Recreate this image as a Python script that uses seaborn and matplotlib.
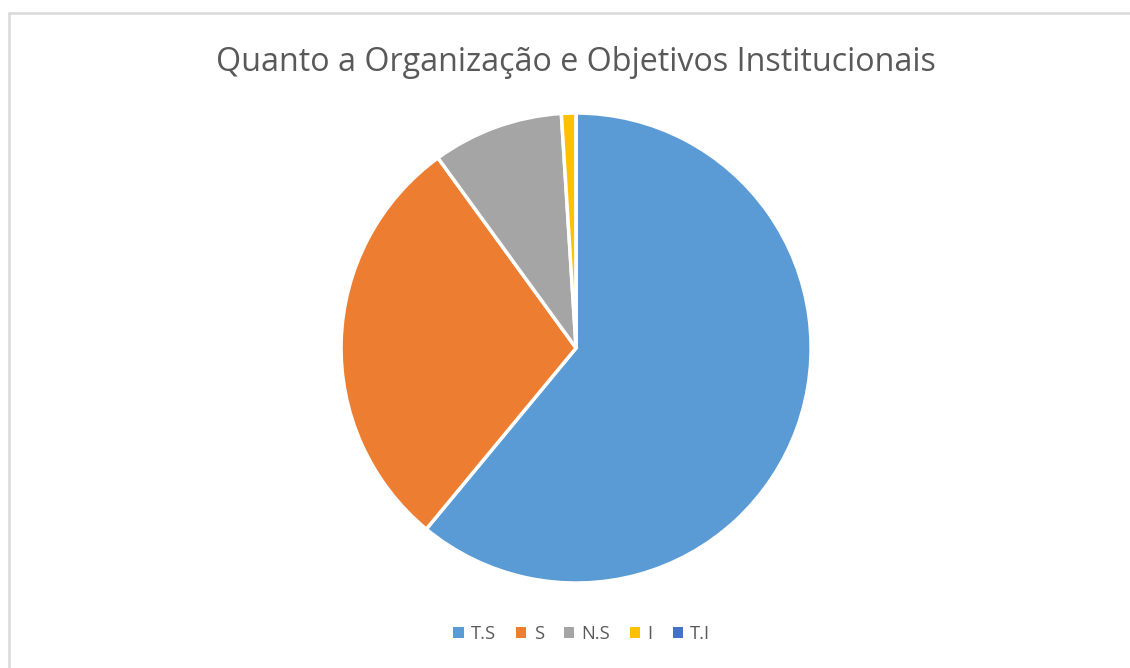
import matplotlib
matplotlib.use("Agg")
import matplotlib.pyplot as plt
import seaborn as sns
from matplotlib.lines import Line2D
from matplotlib.patches import Patch

# data (percent)
categories = ["T.S", "S", "N.S", "I", "T.I"]
values = [61, 29, 9, 1, 0]
colors = ["#5B9BD5", "#ED7D31", "#A5A5A5", "#FFC000", "#4472C4"]

sns.set_theme(style="white")
plt.rcParams["font.family"] = ["Open Sans", "DejaVu Sans"]

fig = plt.figure(figsize=(11.3, 6.68), dpi=100)
ax = fig.add_axes([0.3018, 0.1272, 0.416, 0.7036])

ax.pie(values, colors=colors, startangle=90, counterclock=False,
       wedgeprops=dict(edgecolor="white", linewidth=2.5), radius=1.0)
ax.set_xlim(-1.0, 1.0)
ax.set_ylim(-1.0, 1.0)
ax.axis("off")

fig.text(0.5097, 0.906, "Quanto a Organização e Objetivos Institucionais",
         ha="center", va="center", fontsize=23.2, color="#595959")

handles = [Patch(facecolor=c, edgecolor="none") for c in colors]
fig.legend(handles, categories, loc="center", bbox_to_anchor=(0.515, 0.051),
           ncol=5, frameon=False, fontsize=13.2, labelcolor="#595959",
           handlelength=0.55, handleheight=0.55, handletextpad=0.4,
           columnspacing=1.1)

# chart area border (only top and left visible in the crop)
fig.add_artist(Line2D([8.5 / 1130, 1.0], [1 - 12.5 / 668, 1 - 12.5 / 668],
                      transform=fig.transFigure, color="#D9D9D9", lw=1.8))
fig.add_artist(Line2D([8.5 / 1130, 8.5 / 1130], [0.0, 1 - 12.5 / 668],
                      transform=fig.transFigure, color="#D9D9D9", lw=1.8))

fig.savefig("out.png", dpi=100, facecolor="white")
